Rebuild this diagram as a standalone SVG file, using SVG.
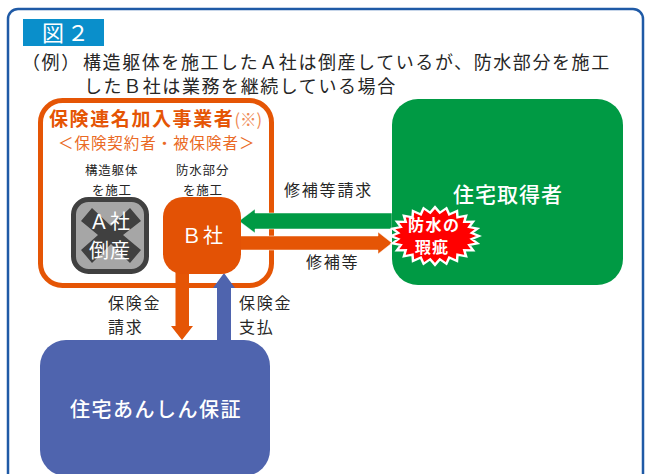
<svg xmlns="http://www.w3.org/2000/svg" width="645" height="474" viewBox="0 0 645 474">
<style>
text{font-family:"Noto Sans CJK JP","Noto Sans",sans-serif;fill:#262626}
.body{font-size:18px;letter-spacing:1.58px}
.lbl{font-size:16px;letter-spacing:1.8px}
.sm{font-size:12.5px;letter-spacing:.8px}
.w{fill:#fff}
.m{text-anchor:middle}
.arrow{stroke:#fff;stroke-width:.5}
</style>
<rect width="645" height="474" fill="#fff"/>
<rect id="frame" x="8" y="9" width="635" height="490" rx="10" fill="#fff" stroke="#1f5aa6" stroke-width="2.5"/>
<g id="title"><rect x="23" y="19" width="81" height="27" fill="#0a8fcb"/><text class="w" x="42" y="41" font-size="22" letter-spacing="3">図２</text></g>
<g id="description">
<text class="body" x="22" y="69">（例）<tspan x="83">構造躯体を施工したＡ社は倒産しているが、防水部分を施工</tspan></text>
<text class="body" x="84" y="93">したＢ社は業務を継続している場合</text>
</g>
<g id="insured">
<rect x="40.5" y="100.5" width="231" height="185" rx="22" fill="#fff" stroke="#e55505" stroke-width="5"/>
<text x="49" y="126" font-size="19" font-weight="700" letter-spacing="1.6" style="fill:#e55505">保険連名加入事業者<tspan font-size="16.5" font-weight="400" letter-spacing="0" style="fill:#ef8a55">(※)</tspan></text>
<text x="58" y="149" font-size="15.5" letter-spacing=".95" style="fill:#ea6a25">＜保険契約者・被保険者＞</text>
<text class="sm" x="85" y="175">構造躯体</text><text class="sm" x="92" y="195">を施工</text>
<text class="sm" x="176" y="175">防水部分</text><text class="sm" x="183" y="195">を施工</text>
</g>
<g id="company-a">
<rect x="73.5" y="199.5" width="73" height="72" rx="15" fill="#a6a6a6" stroke="#404040" stroke-width="5"/>
<polygon points="92,208 111,226 130,208 141,221 123,235 141,250 130,263 111,244 92,263 81,250 98,235 81,221" fill="#404040"/>
<text class="w" x="110" y="229" font-size="20" letter-spacing="1" text-anchor="middle">Ａ社</text>
<text class="w" x="110" y="258" font-size="20" letter-spacing="1" text-anchor="middle">倒産</text>
</g>
<g id="connectors">
<polygon class="arrow" points="392,213 255,213 255,209 239,221 255,233 255,229 392,229" fill="#009a44"/>
<polygon class="arrow" points="236,236 378,236 378,232 392,243 378,254 378,250 236,250" fill="#e55505"/>
<polygon points="175.5,270 189,270 189,326 193,326 182,340 171,326 175.5,326" fill="#e55505"/>
<polygon points="217,342 231,342 231,288 235,288 224,273 213,288 217,288" fill="#4f64ae"/>
</g>
<g id="company-b"><rect x="163" y="197" width="78" height="77" rx="20" fill="#e35205"/><text class="w m" x="203" y="243" font-size="20" letter-spacing="1.5">Ｂ社</text></g>
<g id="labels">
<text class="lbl" x="284" y="196">修補等請求</text><text class="lbl" x="306" y="268">修補等</text>
<text class="lbl" x="108" y="309">保険金</text><text class="lbl" x="108" y="333">請求</text>
<text class="lbl" x="239" y="309">保険金</text><text class="lbl" x="239" y="333">支払</text>
</g>
<g id="buyer"><rect x="392" y="99" width="231" height="186" rx="26" fill="#009a44"/><text class="w" x="453" y="202" font-size="21" font-weight="500" letter-spacing="1">住宅取得者</text></g>
<g id="defect">
<polygon transform="translate(435 236) scale(1 .9) translate(-435 -237)" fill="#f00" stroke="#fff" stroke-width="2.5" points="479,237 471.7,240.4 477.5,245.3 469.2,247 473.1,253 464.3,252.8 466.1,259.6 457.5,257.6 457,264.7 449.2,261 446.4,267.9 439.8,262.8 435,269 430.2,262.8 423.6,267.9 420.8,261 413,264.7 412.5,257.6 403.9,259.6 405.7,252.8 396.9,253 400.8,247 392.5,245.3 398.3,240.4 391,237 398.3,233.6 392.5,228.7 400.8,227 396.9,221 405.7,221.2 403.9,214.4 412.5,216.4 413,209.3 420.8,213 423.6,206.1 430.2,211.2 435,205 439.8,211.2 446.4,206.1 449.2,213 457,209.3 457.5,216.4 466.1,214.4 464.3,221.2 473.1,221 469.2,227 477.5,228.7 471.7,233.6"/>
<text class="w" x="408" y="231" font-size="16" font-weight="700" letter-spacing="1.5">防水の</text>
<text class="w" x="415" y="253" font-size="16" font-weight="700" letter-spacing="1">瑕疵</text>
</g>
<g id="insurer"><rect x="40" y="340" width="230" height="136" rx="26" fill="#4f64ae"/><text class="w" x="70" y="417" font-size="20" font-weight="500" letter-spacing="1.5">住宅あんしん保証</text></g>
</svg>
